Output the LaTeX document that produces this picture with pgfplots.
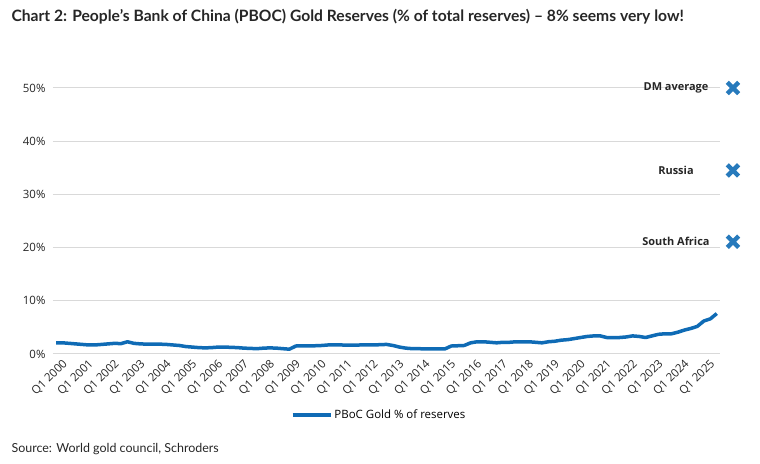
\documentclass[border=0pt]{standalone}
\usepackage{pgfplots}
\usepackage{pgfplotstable}
\pgfplotsset{compat=1.18}
\usepackage{fontspec}
\setmainfont{Open Sans}
\newfontfamily\titlefont{Lato}
\definecolor{pblue}{HTML}{0F6BB5}
\definecolor{gridgray}{HTML}{D9D9D9}
\pgfplotstableread{
q v
0 2.1
1 2.1
2 2.0
3 1.9
4 1.8
5 1.7
6 1.7
7 1.8
8 1.9
9 2.0
10 1.95
11 2.3
12 2.0
13 1.9
14 1.85
15 1.85
16 1.85
17 1.8
18 1.7
19 1.6
20 1.4
21 1.3
22 1.2
23 1.15
24 1.2
25 1.3
26 1.3
27 1.25
28 1.2
29 1.1
30 1.05
31 1.0
32 1.1
33 1.15
34 1.1
35 1.0
36 0.9
37 1.5
38 1.55
39 1.55
40 1.55
41 1.6
42 1.7
43 1.7
44 1.7
45 1.65
46 1.65
47 1.7
48 1.7
49 1.7
50 1.75
51 1.8
52 1.6
53 1.3
54 1.1
55 1.0
56 1.0
57 0.95
58 0.95
59 0.95
60 0.95
61 1.5
62 1.55
63 1.6
64 2.1
65 2.3
66 2.3
67 2.2
68 2.1
69 2.2
70 2.2
71 2.3
72 2.3
73 2.3
74 2.2
75 2.1
76 2.3
77 2.4
78 2.6
79 2.7
80 2.9
81 3.1
82 3.3
83 3.4
84 3.4
85 3.1
86 3.1
87 3.1
88 3.2
89 3.4
90 3.3
91 3.1
92 3.4
93 3.7
94 3.8
95 3.8
96 4.1
97 4.5
98 4.8
99 5.2
100 6.2
101 6.6
102 7.6
}\gold
\begin{document}
\begin{tikzpicture}[x=1bp,y=1bp]
\useasboundingbox (-53,-110) rectangle (707,354);
\begin{axis}[
  at={(0,0)}, anchor=south west,
  scale only axis, width=667bp, height=266bp,
  xmin=-0.5, xmax=102.5, ymin=0, ymax=50,
  clip=false,
  axis line style={draw=none},
  major tick style={draw=none},
  ymajorgrids, grid style={gridgray, line width=1bp},
  ytick={0,10,20,30,40,50},
  yticklabel={\pgfmathprintnumber{\tick}\%},
  yticklabel style={font=\fontsize{11.5}{13}\selectfont, color=black!85, xshift=-4bp},
  xtick={0,4,...,100},
  xticklabels={Q1 2000,Q1 2001,Q1 2002,Q1 2003,Q1 2004,Q1 2005,Q1 2006,Q1 2007,Q1 2008,Q1 2009,Q1 2010,Q1 2011,Q1 2012,Q1 2013,Q1 2014,Q1 2015,Q1 2016,Q1 2017,Q1 2018,Q1 2019,Q1 2020,Q1 2021,Q1 2022,Q1 2023,Q1 2024,Q1 2025},
  xticklabel style={rotate=45, anchor=north east, inner sep=1bp, yshift=-6bp, xshift=2bp, font=\fontsize{11.5}{13}\selectfont, color=black!85},
  /pgf/number format/assume math mode=true,
  legend style={at={(0.489,-0.23)}, anchor=center, draw=none, fill=none, font=\fontsize{11.5}{13}\selectfont, legend cell align=left},
  legend image code/.code={\draw[#1, line width=3.5bp] (0bp,0bp) -- (38bp,0bp);},
]
\addplot[pblue, line width=3.5bp, line join=round] table[x=q, y=v] {\gold};
\addlegendentry{PBoC Gold \% of reserves}
\addplot[only marks, mark=x, mark size=8bp, color=pblue!90!white, mark options={line width=4.5bp}, forget plot] coordinates {(104.5,50) (104.5,34.5) (104.5,21.1)};
\addplot[draw=none, mark=none, forget plot, point meta=explicit symbolic,
  nodes near coords, every node near coord/.append style={anchor=center, font=\bfseries\fontsize{11}{13}\selectfont, color=black!85}]
  coordinates {(95.7,50) [DM average] (95.7,34.5) [Russia] (95.7,21.1) [South Africa]};
\end{axis}
\node[anchor=base west, font=\titlefont\bfseries\fontsize{15.7}{18}\selectfont, color=black!85] at (-45,332) {Chart 2: People’s Bank of China (PBOC) Gold Reserves (\% of total reserves) – 8\% seems very low!};
\node[anchor=base west, font=\titlefont\fontsize{12.5}{14}\selectfont, color=black!85] at (-45,-99) {Source: World gold council, Schroders};
\end{tikzpicture}
\end{document}
